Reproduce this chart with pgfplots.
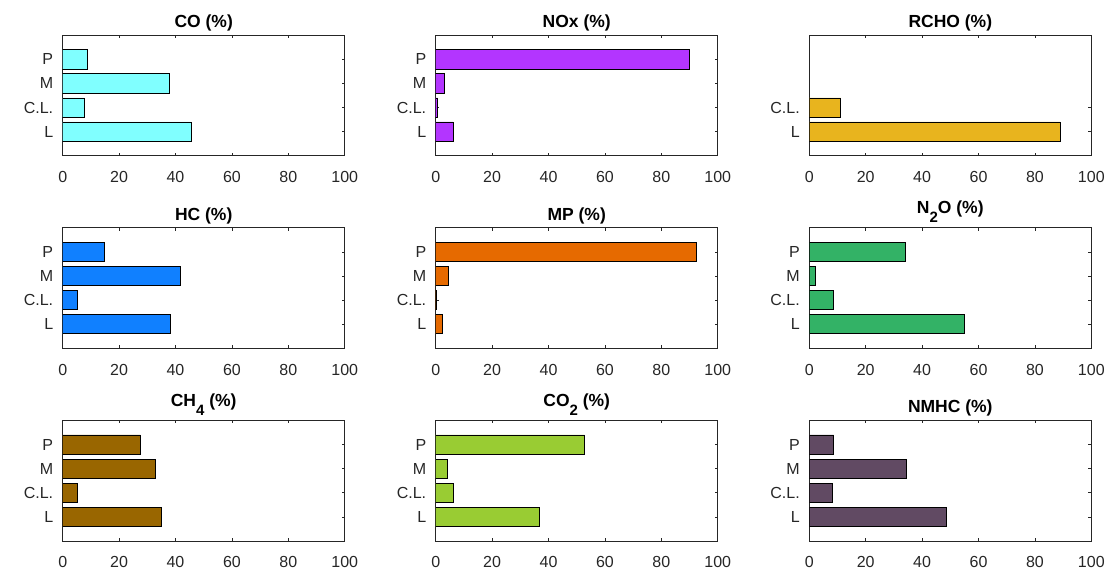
\documentclass[border=0pt]{standalone}
\usepackage{fontspec}
\setmainfont{Liberation Sans}
\usepackage{pgfplots}
\pgfplotsset{compat=1.18}

\definecolor{axgray}{HTML}{262626}
\definecolor{cCO}{HTML}{80FFFF}
\definecolor{cNOx}{HTML}{B335FF}
\definecolor{cRCHO}{HTML}{E8B41E}
\definecolor{cHC}{HTML}{1080FF}
\definecolor{cMP}{HTML}{E66A00}
\definecolor{cNtwoO}{HTML}{33B266}
\definecolor{cCH}{HTML}{996600}
\definecolor{cCOtwo}{HTML}{99CC33}
\definecolor{cNMHC}{HTML}{614A63}

\newcommand{\sub}[1]{\raisebox{-9pt}{\fontsize{15}{15}\selectfont #1}}

\pgfplotsset{
every axis title/.style={},
panel/.style={
  scale only axis, width=282pt, height=120.5pt,
  anchor=south west,
  xmin=0, xmax=100, ymin=0, ymax=5,
  xtick={0,20,40,60,80,100},
  ytick={1,2,3,4}, yticklabels={L,C.L.,M,P},
  xbar, bar width=0.8,
  axis line style={draw=axgray, line width=0.6pt},
  tick style={draw=axgray, line width=0.6pt},
  major tick length=3pt,
  tick align=inside,
  ticklabel style={font=\fontsize{16}{19}\selectfont, text=axgray},
  xticklabel style={anchor=base, yshift=-27pt},
  yticklabel style={xshift=-6pt},
  /pgf/number format/assume math mode=true,
  title style={font=\bfseries\fontsize{17.5}{20}\selectfont, at={(0.5,1)}, anchor=base, yshift=7.7pt},
},
subtitle/.style={title style={yshift=6.6pt}},
barstyle/.style={draw=black, line width=0.7pt}}

\begin{document}
\begin{tikzpicture}
\path[use as bounding box] (0,0) rectangle (1107pt,572pt);

% Row 1
\begin{axis}[panel, at={(62.7pt,416.3pt)}, title={CO (\%)}]
\addplot[barstyle, fill=cCO] coordinates {(45.6,1) (7.5,2) (37.9,3) (8.8,4)};
\end{axis}
\begin{axis}[panel, at={(435.7pt,416.3pt)}, title={NOx (\%)}]
\addplot[barstyle, fill=cNOx] coordinates {(6.2,1) (0.7,2) (2.9,3) (90.0,4)};
\end{axis}
\begin{axis}[panel, at={(809.3pt,416.3pt)}, title={RCHO (\%)}, ytick={1,2}, yticklabels={L,C.L.}]
\addplot[barstyle, fill=cRCHO] coordinates {(88.9,1) (11.1,2)};
\end{axis}

% Row 2
\begin{axis}[panel, at={(62.7pt,223.7pt)}, title={HC (\%)}]
\addplot[barstyle, fill=cHC] coordinates {(38.2,1) (5.2,2) (41.7,3) (14.9,4)};
\end{axis}
\begin{axis}[panel, at={(435.7pt,223.7pt)}, title={MP (\%)}]
\addplot[barstyle, fill=cMP] coordinates {(2.4,1) (0.4,2) (4.5,3) (92.5,4)};
\end{axis}
\begin{axis}[panel, subtitle, at={(809.3pt,223.7pt)}, title={N\sub{2}O (\%)}]
\addplot[barstyle, fill=cNtwoO] coordinates {(55.1,1) (8.6,2) (2.3,3) (34.0,4)};
\end{axis}

% Row 3
\begin{axis}[panel, subtitle, at={(62.7pt,31pt)}, title={CH\sub{4} (\%)}]
\addplot[barstyle, fill=cCH] coordinates {(35.0,1) (5.2,2) (32.7,3) (27.5,4)};
\end{axis}
\begin{axis}[panel, subtitle, at={(435.7pt,31pt)}, title={CO\sub{2} (\%)}]
\addplot[barstyle, fill=cCOtwo] coordinates {(36.6,1) (6.2,2) (4.1,3) (52.8,4)};
\end{axis}
\begin{axis}[panel, at={(809.3pt,31pt)}, title={NMHC (\%)}]
\addplot[barstyle, fill=cNMHC] coordinates {(48.5,1) (8.2,2) (34.5,3) (8.6,4)};
\end{axis}
\end{tikzpicture}
\end{document}
